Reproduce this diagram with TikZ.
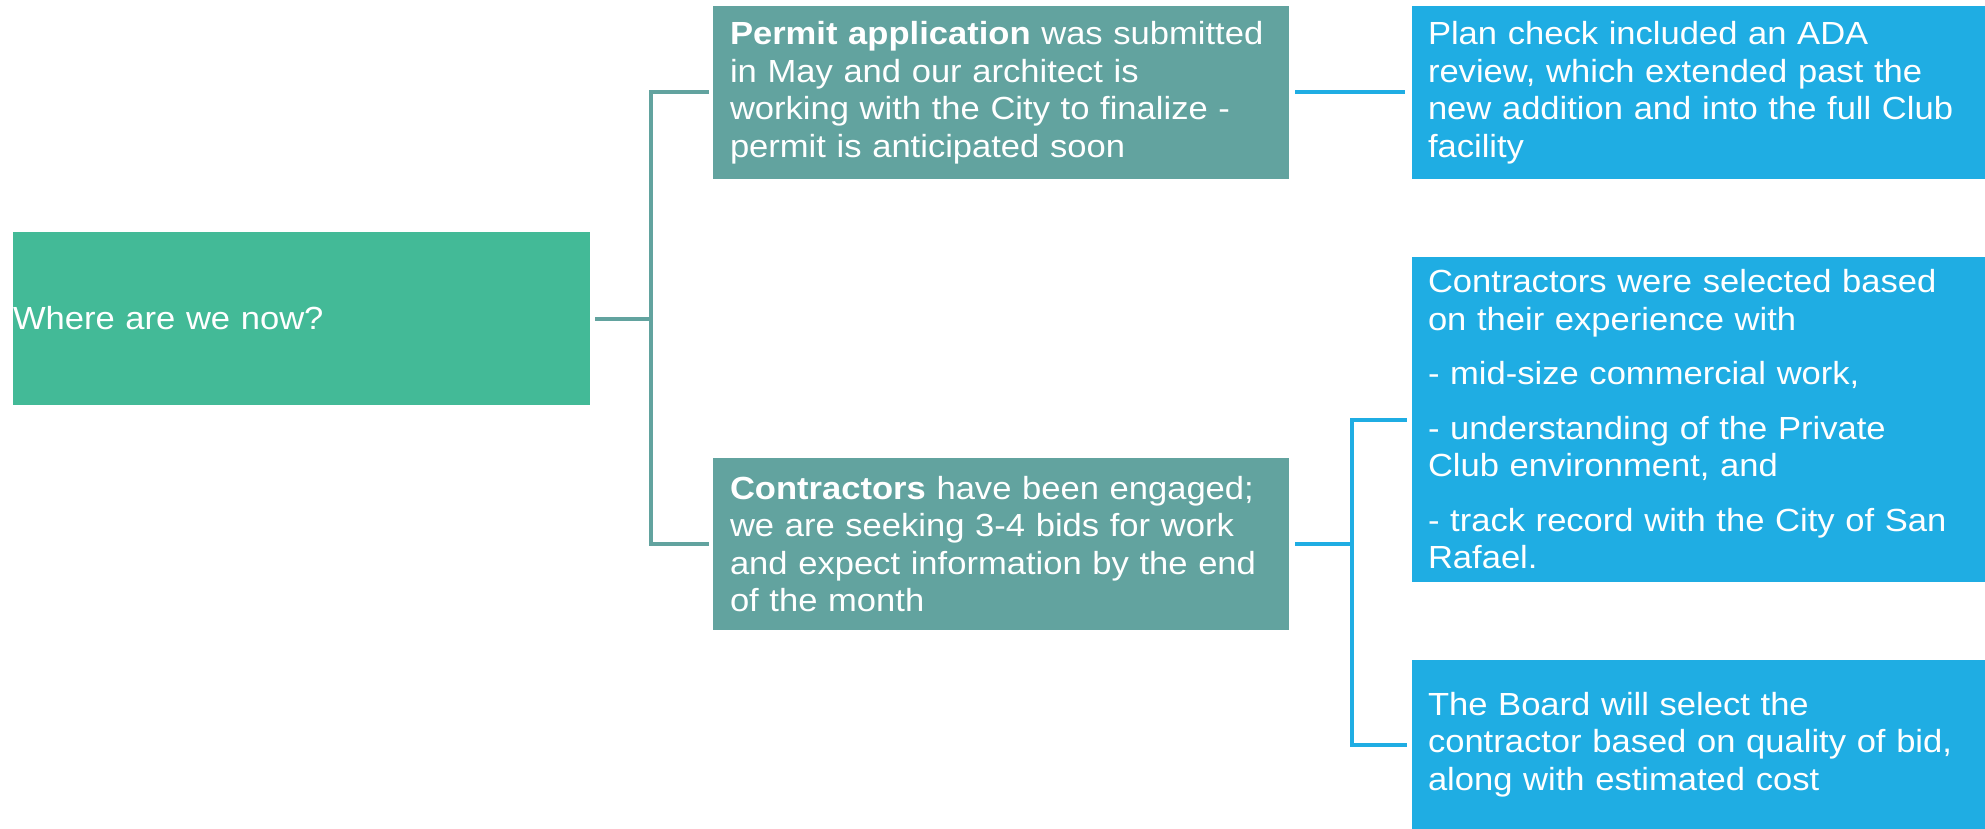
\documentclass[tikz,border=0pt]{standalone}
\usepackage{fontspec}
\setmainfont{Liberation Sans}[FakeStretch=1.08]
\usepackage{tikz}
\usetikzlibrary{calc}
\definecolor{rootgreen}{HTML}{43BA97}
\definecolor{midteal}{HTML}{62A39F}
\definecolor{leafblue}{HTML}{1FADE3}

\begin{document}
\begin{tikzpicture}[x=0.5pt, y=-0.5pt,
	box/.style={rectangle, text=white, align=left, font=\fontsize{16pt}{18.75pt}\selectfont, inner ysep=0pt, inner xsep=8pt, minimum height=86.5pt},
	mid/.style={box, fill=midteal, inner xsep=8.5pt, text width=271pt},
	leaf/.style={box, fill=leafblue, text width=270.5pt},
	tline/.style={midteal, line width=2pt},
	bline/.style={leafblue, line width=2pt}]
				\useasboundingbox[fill=white] (0,0) rectangle (1985,829);
				
				\node[box, fill=rootgreen, inner xsep=0pt, text width=288.5pt] (root) at (301.5,318.5) {Where are we now?};
				\node[mid] (permit) at (1001,92.5) {\textbf{Permit application} was submitted\\in May and our architect is\\working with the City to finalize -\\permit is anticipated soon};
				\node[mid, minimum height=86pt] (bids) at (1001,544) {\textbf{Contractors} have been engaged;\\we are seeking 3-4 bids for work\\and expect information by the end\\of the month};
				\node[leaf] (ada) at (1698.5,92.5) {Plan check included an ADA\\review, which extended past the\\new addition and into the full Club\\facility};
				\node[leaf, minimum height=162.5pt] (exp) at (1698.5,419.5) {Contractors were selected based\\on their experience with\\[8.5pt]- mid-size commercial work,\\[8.5pt]- understanding of the Private\\Club environment, and\\[8.5pt]- track record with the City of San\\Rafael.};
				\node[leaf, minimum height=84.5pt] (board) at (1698.5,744.5) {The Board will select the\\contractor based on quality of bid,\\along with estimated cost};
				
				\coordinate (j1) at (651,318.5);
				\coordinate (j2) at (1352,544);
				
				\draw[tline] ([xshift=2.5pt]root.east) -- (j1);
				\draw[tline] ([xshift=-2pt]permit.west) -| (j1) |- ([xshift=-2pt]bids.west);
				\draw[bline] ([xshift=3pt]permit.east) -- ([xshift=-3.5pt]ada.west);
				\draw[bline] ([xshift=3pt]bids.east) -- (j2);
				\draw[bline] ([xshift=-2.5pt]exp.west) -| (j2) |- ([xshift=-2.5pt]board.west);
			\end{tikzpicture}
\end{document}
